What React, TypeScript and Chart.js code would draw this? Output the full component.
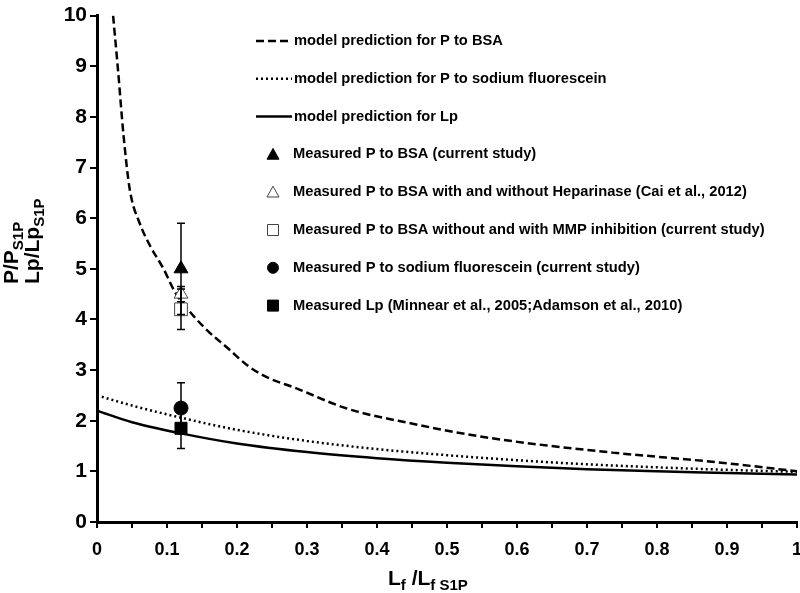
import React, { useEffect, useRef } from "react";
import { Chart, registerables } from "chart.js";

Chart.register(...registerables);

// Model curves
const bsaX = [0.023, 0.03, 0.038, 0.047, 0.061, 0.076, 0.095, 0.111, 0.121, 0.154, 0.187, 0.216, 0.244, 0.283, 0.357, 0.451, 0.547, 0.643, 0.737, 0.9, 1.0];
const bsaY = [10.0, 8.93, 7.62, 6.55, 5.9, 5.45, 5.0, 4.55, 4.35, 3.83, 3.43, 3.08, 2.85, 2.65, 2.24, 1.94, 1.69, 1.51, 1.37, 1.16, 1.0];
const naX = [0, 0.05, 0.12, 0.2, 0.3, 0.4, 0.5, 0.6, 0.7, 0.8, 0.9, 1.0];
const naY = [2.5, 2.3, 2.06, 1.82, 1.6, 1.44, 1.32, 1.22, 1.14, 1.08, 1.03, 0.99];
const lpX = [0, 0.05, 0.12, 0.2, 0.3, 0.4, 0.5, 0.6, 0.7, 0.8, 0.9, 1.0];
const lpY = [2.2, 1.97, 1.75, 1.55, 1.38, 1.26, 1.17, 1.1, 1.04, 1.0, 0.97, 0.94];

// Measured points
const measuredLabels = [
  "Measured P to BSA (current study)",
  "Measured P to BSA with and without Heparinase (Cai et al., 2012)",
  "Measured P to BSA without and with MMP inhibition (current study)",
  "Measured P to sodium fluorescein (current study)",
  "Measured Lp (Minnear et al., 2005;Adamson et al., 2010)",
];
const measuredX = [0.12, 0.12, 0.12, 0.12, 0.12];
const measuredY = [5.0, 4.5, 4.2, 2.25, 1.85];
const measuredErr = [0.9, 0.15, 0.4, 0.5, 0.4];

const lineLabels = [
  "model prediction for P to BSA",
  "model prediction for P to sodium fluorescein",
  "model prediction for Lp",
];

const yTicks = [0, 1, 2, 3, 4, 5, 6, 7, 8, 9, 10];

const FONT = "'Liberation Sans', Arial, sans-serif";

const lineStyles = [
  { dash: [8, 4], width: 2.5 },
  { dash: [2, 3], width: 2.5 },
  { dash: [], width: 2.5 },
];
const markerStyles = [
  { style: "triangle", fill: "#000", stroke: "#000", r: 8 },
  { style: "triangle", fill: "#fff", stroke: "#444", r: 8 },
  { style: "rect", fill: "#fff", stroke: "#444", r: 9 },
  { style: "circle", fill: "#000", stroke: "#000", r: 7 },
  { style: "rect", fill: "#000", stroke: "#000", r: 8.5 },
];

function drawSubText(ctx: CanvasRenderingContext2D, parts: [string, boolean][], x: number, y: number, big: number, small: number) {
  let cx = x;
  for (const [t, sub] of parts) {
    ctx.font = `bold ${sub ? small : big}px ${FONT}`;
    ctx.fillText(t, cx, sub ? y + 5 : y);
    cx += ctx.measureText(t).width;
  }
  return cx - x;
}

const decorPlugin = {
  id: "decor",
  afterDatasetsDraw(chart: any) {
    const ctx = chart.ctx as CanvasRenderingContext2D;
    const xs = chart.scales.x;
    const ys = chart.scales.y;
    ctx.save();
    ctx.strokeStyle = "#000";
    ctx.lineWidth = 1.5;
    for (let i = 0; i < measuredX.length; i++) {
      const px = xs.getPixelForValue(measuredX[i]);
      const top = ys.getPixelForValue(measuredY[i] + measuredErr[i]);
      const bot = ys.getPixelForValue(measuredY[i] - measuredErr[i]);
      ctx.beginPath();
      ctx.moveTo(px, top);
      ctx.lineTo(px, bot);
      ctx.moveTo(px - 4, top);
      ctx.lineTo(px + 4, top);
      ctx.moveTo(px - 4, bot);
      ctx.lineTo(px + 4, bot);
      ctx.stroke();
    }
    ctx.restore();
  },
  afterDraw(chart: any) {
    const ctx = chart.ctx as CanvasRenderingContext2D;
    ctx.save();
    ctx.fillStyle = "#000";
    ctx.textBaseline = "middle";
    const rowY0 = 41;
    const rowH = 37.8;
    const legendFont = `bold 14.7px ${FONT}`;
    for (let i = 0; i < lineLabels.length; i++) {
      const y = rowY0 + i * rowH;
      ctx.strokeStyle = "#000";
      ctx.lineWidth = lineStyles[i].width;
      ctx.setLineDash(lineStyles[i].dash);
      ctx.beginPath();
      ctx.moveTo(256, y);
      ctx.lineTo(292, y);
      ctx.stroke();
      ctx.setLineDash([]);
      ctx.font = legendFont;
      ctx.fillText(lineLabels[i], 294, y);
    }
    for (let i = 0; i < measuredLabels.length; i++) {
      const y = rowY0 + (i + 3) * rowH;
      const m = markerStyles[i];
      ctx.fillStyle = m.fill;
      ctx.strokeStyle = m.stroke;
      ctx.lineWidth = 1;
      const r = m.style === "circle" ? 5.5 : 6;
      ctx.beginPath();
      if (m.style === "triangle") {
        ctx.moveTo(273, y - r);
        ctx.lineTo(273 + r, y + r * 0.8);
        ctx.lineTo(273 - r, y + r * 0.8);
        ctx.closePath();
      } else if (m.style === "rect") {
        ctx.rect(273 - r + 0.5, y - r + 0.5, 2 * r - 1, 2 * r - 1);
      } else {
        ctx.arc(273, y, r, 0, Math.PI * 2);
      }
      ctx.fill();
      ctx.stroke();
      ctx.fillStyle = "#000";
      ctx.font = legendFont;
      ctx.fillText(measuredLabels[i], 293, y);
    }
    // y-axis title (rotated, reading bottom to top)
    ctx.textBaseline = "alphabetic";
    ctx.textAlign = "left";
    const l1: [string, boolean][] = [["P/P", false], ["S1P", true]];
    const l2: [string, boolean][] = [["Lp/Lp", false], ["S1P", true]];
    const startY = 284;
    ctx.save();
    ctx.translate(18, startY);
    ctx.rotate(-Math.PI / 2);
    drawSubText(ctx, l1, 0, 0, 21, 15);
    ctx.restore();
    ctx.save();
    ctx.translate(39, startY);
    ctx.rotate(-Math.PI / 2);
    drawSubText(ctx, l2, 0, 0, 21, 15);
    ctx.restore();
    // x-axis title
    const xt: [string, boolean][] = [["L", false], ["f", true], [" /L", false], ["f S1P", true]];
    drawSubText(ctx, xt, 388, 585, 21, 15);
    ctx.restore();
  },
};

export default function App() {
  const ref = useRef<HTMLCanvasElement | null>(null);
  useEffect(() => {
    document.body.style.margin = "0";
    const canvas = ref.current!;
    const mk = (xa: number[], ya: number[]) => xa.map((x, i) => ({ x, y: ya[i] }));
    const datasets: any[] = [
      { label: lineLabels[0], data: mk(bsaX, bsaY), borderDash: lineStyles[0].dash, borderWidth: lineStyles[0].width },
      { label: lineLabels[1], data: mk(naX, naY), borderDash: lineStyles[1].dash, borderWidth: lineStyles[1].width },
      { label: lineLabels[2], data: mk(lpX, lpY), borderDash: lineStyles[2].dash, borderWidth: lineStyles[2].width },
    ].map((d) => ({
      ...d,
      type: "line",
      borderColor: "#000",
      pointRadius: 0,
      tension: 0.4,
      cubicInterpolationMode: "monotone",
      fill: false,
      order: 2,
    }));
    measuredLabels.forEach((lab, i) => {
      const m = markerStyles[i];
      datasets.push({
        type: "scatter",
        label: lab,
        data: [{ x: measuredX[i], y: measuredY[i] }],
        pointStyle: m.style,
        pointRadius: m.r,
        backgroundColor: m.fill,
        borderColor: m.stroke,
        borderWidth: 1,
        order: 1,
      });
    });
    const chart = new Chart(canvas, {
      type: "scatter",
      data: { datasets },
      plugins: [decorPlugin],
      options: {
        responsive: false,
        animation: false,
        layout: { padding: { top: 12, right: 3, left: 0, bottom: 0 } },
        plugins: { legend: { display: false }, tooltip: { enabled: false } },
        scales: {
          x: {
            type: "linear",
            min: 0,
            max: 1,
            afterFit: (s: any) => { s.height = 71; },
            ticks: {
              stepSize: 0.05,
              autoSkip: false,
              maxRotation: 0,
              padding: 11,
              color: "#000",
              font: { family: FONT, size: 18, weight: "bold" },
              callback: (v: any) => {
                const r = Math.round(Number(v) * 100);
                if (r % 10 !== 0) return "";
                if (r === 0) return "0";
                if (r === 100) return "1";
                return (r / 100).toFixed(1);
              },
            },
            grid: { drawOnChartArea: false, drawTicks: true, tickLength: 6, color: "#000", lineWidth: 2 },
            border: { color: "#000", width: 3 },
          },
          y: {
            type: "linear",
            min: 0,
            max: 10,
            afterFit: (s: any) => { s.width = 97; },
            afterBuildTicks: (s: any) => { s.ticks = yTicks.map((v) => ({ value: v })); },
            ticks: {
              padding: 3,
              color: "#000",
              font: { family: FONT, size: 21, weight: "bold" },
              callback: (v: any) => String(v),
            },
            grid: { drawOnChartArea: false, drawTicks: true, tickLength: 7, color: "#000", lineWidth: 2 },
            border: { color: "#000", width: 3 },
          },
        },
      } as any,
    });
    return () => chart.destroy();
  }, []);
  return (
    <div style={{ width: 800, height: 593, position: "relative", overflow: "hidden", background: "#fff" }}>
      <canvas ref={ref} width={813} height={593} />
    </div>
  );
}
